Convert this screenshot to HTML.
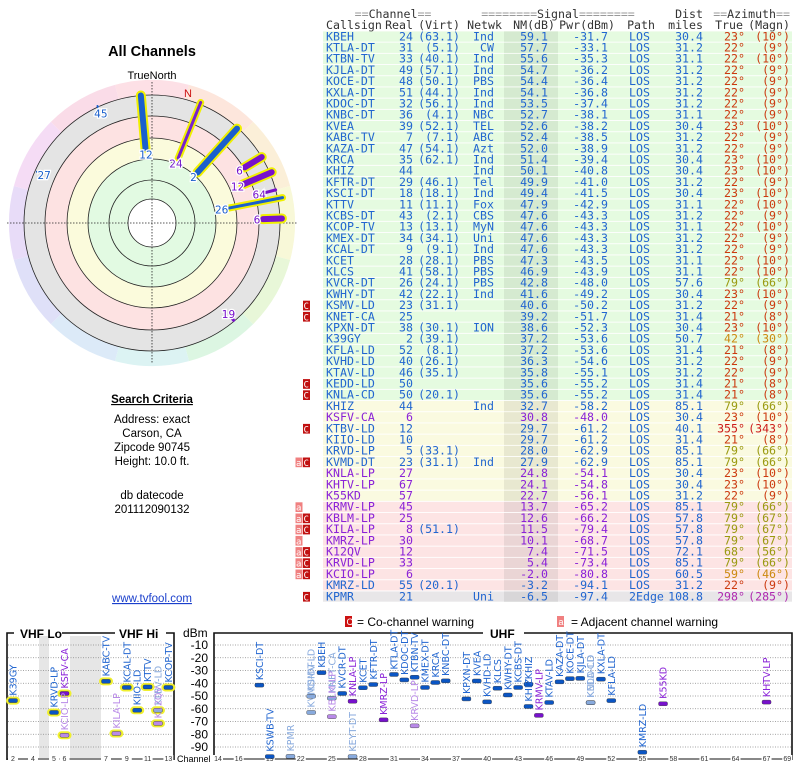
<!DOCTYPE html>
<html><head><meta charset="utf-8"><style>
html,body{margin:0;padding:0;background:#fff;width:800px;height:768px;overflow:hidden}
svg{display:block}
.mono{font-family:"DejaVu Sans Mono","Liberation Mono",monospace;font-size:11.6px}
.sans{font-family:"DejaVu Sans","Liberation Sans",sans-serif}
</style></head><body>
<svg id="root" width="800" height="768" viewBox="0 0 800 768" xmlns="http://www.w3.org/2000/svg">
<g id="polar"></g>
<g id="left" class="sans">
<text x="152" y="56" text-anchor="middle" font-size="14.5" font-weight="bold" font-family="Liberation Sans, sans-serif">All Channels</text>
<text x="152" y="79" text-anchor="middle" font-size="11" font-family="Liberation Sans, sans-serif">TrueNorth</text>
<text x="152" y="403" text-anchor="middle" font-size="11.5" font-weight="bold" text-decoration="underline" font-family="Liberation Sans, sans-serif">Search Criteria</text>
<g font-size="11.5" font-family="Liberation Sans, sans-serif" text-anchor="middle">
<text x="152" y="423">Address: exact</text><text x="152" y="437">Carson, CA</text><text x="152" y="451">Zipcode 90745</text><text x="152" y="465">Height: 10.0 ft.</text>
<text x="152" y="499">db datecode</text><text x="152" y="513">201112090132</text></g>
<text x="152" y="602" text-anchor="middle" font-size="11.5" fill="#1a3fcc" text-decoration="underline" font-family="Liberation Sans, sans-serif">www.tvfool.com</text>
</g>
<g id="table" class="mono"></g>
<g id="legend" font-family="Liberation Sans, sans-serif" font-size="12">
<rect x="345" y="616" width="7" height="11" fill="#cc1111"/><text x="346.5" y="625" font-size="9" fill="#fff">C</text>
<text x="357" y="626">= Co-channel warning</text>
<rect x="557" y="616" width="7" height="11" fill="#f08080"/><text x="558.5" y="625" font-size="9" fill="#fff">a</text>
<text x="571" y="626">= Adjacent channel warning</text>
</g>
<g id="spectrum"></g>
</svg>
<script>
const NS="http://www.w3.org/2000/svg";
function mk(p,tag,attrs,txt){const e=document.createElementNS(NS,tag);for(const k in attrs)e.setAttribute(k,attrs[k]);if(txt!==undefined)e.textContent=txt;p.appendChild(e);return e;}

// ---------- TABLE DATA ----------
const callsigns=["KBEH","KTLA-DT","KTBN-TV","KJLA-DT","KOCE-DT","KXLA-DT","KDOC-DT","KNBC-DT","KVEA","KABC-TV","KAZA-DT","KRCA","KHIZ","KFTR-DT","KSCI-DT","KTTV","KCBS-DT","KCOP-TV","KMEX-DT","KCAL-DT","KCET","KLCS","KVCR-DT","KWHY-DT","KSMV-LD","KNET-CA","KPXN-DT","K39GY","KFLA-LD","KVHD-LD","KTAV-LD","KEDD-LD","KNLA-CD","KHIZ","KSFV-CA","KTBV-LD","KIIO-LD","KRVD-LP","KVMD-DT","KNLA-LP","KHTV-LP","K55KD","KRMV-LP","KBLM-LP","KILA-LP","KMRZ-LP","K12QV","KRVD-LP","KCIO-LP","KMRZ-LD","KPMR"];
const realCh=[24,31,33,49,48,51,32,36,39,7,47,35,44,29,18,11,43,13,34,9,28,41,26,42,23,25,38,2,52,40,46,50,50,44,6,12,10,5,23,27,67,57,45,25,8,30,12,33,6,55,21];
const virtCh=["63.1","5.1","40.1","57.1","50.1","44.1","56.1","4.1","52.1","7.1","54.1","62.1","","46.1","18.1","11.1","2.1","13.1","34.1","9.1","28.1","58.1","24.1","22.1","31.1","","30.1","39.1","8.1","26.1","35.1","","20.1","","","","","33.1","31.1","","","","","","51.1","","","","","20.1",""];
const networks=["Ind","CW","Ind","Ind","PBS","Ind","Ind","NBC","TEL","ABC","Azt","Ind","Ind","Tel","Ind","Fox","CBS","MyN","Uni","Ind","PBS","PBS","PBS","Ind","","","ION","","","","","","","Ind","","","","","Ind","","","","","","","","","","","","Uni"];
const nmDb=[59.1,57.7,55.6,54.7,54.4,54.1,53.5,52.7,52.6,52.4,52.0,51.4,50.1,49.9,49.4,47.9,47.6,47.6,47.6,47.6,47.3,46.9,42.8,41.6,40.6,39.2,38.6,37.2,37.2,36.3,35.8,35.6,35.6,32.7,30.8,29.7,29.7,28.0,27.9,24.8,24.1,22.7,13.7,12.6,11.5,10.1,7.4,5.4,-2.0,-3.2,-6.5];
const pwrDbm=[-31.7,-33.1,-35.3,-36.2,-36.4,-36.8,-37.4,-38.1,-38.2,-38.5,-38.9,-39.4,-40.8,-41.0,-41.5,-42.9,-43.3,-43.3,-43.3,-43.3,-43.5,-43.9,-48.0,-49.2,-50.2,-51.7,-52.3,-53.6,-53.6,-54.6,-55.1,-55.2,-55.2,-58.2,-48.0,-61.2,-61.2,-62.9,-62.9,-54.1,-54.8,-56.1,-65.2,-66.2,-79.4,-68.7,-71.5,-73.4,-80.8,-94.1,-97.4];
const paths=["LOS","LOS","LOS","LOS","LOS","LOS","LOS","LOS","LOS","LOS","LOS","LOS","LOS","LOS","LOS","LOS","LOS","LOS","LOS","LOS","LOS","LOS","LOS","LOS","LOS","LOS","LOS","LOS","LOS","LOS","LOS","LOS","LOS","LOS","LOS","LOS","LOS","LOS","LOS","LOS","LOS","LOS","LOS","LOS","LOS","LOS","LOS","LOS","LOS","LOS","2Edge"];
const distMiles=[30.4,31.2,31.1,31.2,31.2,31.2,31.2,31.1,30.4,31.2,31.2,30.4,30.4,31.2,30.4,31.1,31.2,31.1,31.2,31.2,31.1,31.1,57.6,30.4,31.2,31.4,30.4,50.7,31.4,31.2,31.2,31.4,31.4,85.1,30.4,40.1,31.4,85.1,85.1,30.4,30.4,31.2,85.1,57.8,57.8,57.8,72.1,85.1,60.5,31.2,108.8];
const azTrue=[23,22,22,22,22,22,22,22,23,22,22,23,23,22,23,22,22,22,22,22,22,22,79,23,22,21,23,42,21,22,22,21,21,79,23,355,21,79,79,23,23,22,79,79,79,79,68,79,59,22,298];
const azMagn=[10,9,10,9,9,9,9,9,10,9,9,10,10,9,10,10,9,10,9,9,10,10,66,10,9,8,10,30,8,9,9,8,8,66,10,343,8,66,66,10,10,9,66,67,67,67,56,66,46,9,285];
const warnings=["","","","","","","","","","","","","","","","","","","","","","","","","C","C","","","","","","C","C","","","C","","","aC","","","","a","aC","aC","a","aC","aC","aC","","C"];
const lowPower=[0,0,0,0,0,0,0,0,0,0,0,0,0,0,0,0,0,0,0,0,0,0,0,0,0,0,0,0,0,0,0,0,0,0,1,0,0,0,0,1,1,1,1,1,1,1,1,1,1,0,0];

// ---------- SPECTRUM EXTRA (not in table) ----------
const extraCalls=["KSWB-TV","KEYT-DT"];
const extraCh=[19,27];
const extraPwr=[-97.5,-97.5];
const extraLight=[0,1];

const BLUE="#2266d0",PURPLE="#8a22d8";
function azColor(a){if(a===355)return"#cc1a1a";if(a===298)return"#b02ab0";if(a>=60)return"#9a9a10";if(a>=40)return"#cc8a10";return"#cc3a10";}

const tbl=document.getElementById('table');
const hdr=mk(tbl,'g',{fill:'#333'});


function htxt(x,y,anchor,parts){const t=mk(hdr,'text',{x:x,y:y,'text-anchor':anchor});parts.forEach(p=>{mk(t,'tspan',{fill:p[1]?'#999':'#333'},p[0]);});}
htxt(393,18,'middle',[['==',1],['Channel',0],['==',1]]);
htxt(558,18,'middle',[['========',1],['Signal',0],['========',1]]);
mk(hdr,'text',{x:703,y:18,'text-anchor':'end'},'Dist');
htxt(790,18,'end',[['==',1],['Azimuth',0],['==',1]]);
mk(hdr,'text',{x:326,y:29},'Callsign');
mk(hdr,'text',{x:413,y:29,'text-anchor':'end'},'Real');
mk(hdr,'text',{x:460,y:29,'text-anchor':'end'},'(Virt)');
mk(hdr,'text',{x:502,y:29,'text-anchor':'end'},'Netwk');
mk(hdr,'text',{x:555,y:29,'text-anchor':'end'},'NM(dB)');
mk(hdr,'text',{x:615,y:29,'text-anchor':'end'},'Pwr(dBm)');
mk(hdr,'text',{x:655,y:29,'text-anchor':'end'},'Path');
mk(hdr,'text',{x:703,y:29,'text-anchor':'end'},'miles');
mk(hdr,'text',{x:743,y:29,'text-anchor':'end'},'True');
mk(hdr,'text',{x:790,y:29,'text-anchor':'end'},'(Magn)');

const RH=11.2;
callsigns.forEach((c,i)=>{
  const g=mk(tbl,'g',{});
  
  
  const top=31.4+i*RH;
  let bg=i<33?'#e5fbe0':i<42?'#fafae0':i<50?'#fde4e4':'#e8e6e8';
  let sh=i<33?'#d5ead0':i<42?'#e8e8d0':i<50?'#ead5d5':'#d8d6d8';
  mk(g,'rect',{x:323,y:top,width:469,height:RH-0.9,fill:bg});
  mk(g,'rect',{x:504,y:top,width:54,height:RH-0.9,fill:sh});
  const b=top+8.9, lp=lowPower[i], col=lp?PURPLE:BLUE;
  const w=warnings[i];
  if(w.includes('C')){mk(g,'rect',{x:303,y:top+0.5,width:7,height:RH-1.5,fill:'#c01010'});mk(g,'text',{x:303.5,y:b,fill:'#fff','font-size':'9'},'C');}
  if(w.includes('a')){mk(g,'rect',{x:295.5,y:top+0.5,width:7,height:RH-1.5,fill:'#f08080'});mk(g,'text',{x:296,y:b,fill:'#fff','font-size':'9'},'a');}
  mk(g,'text',{x:326,y:b,fill:col},c);
  mk(g,'text',{x:413,y:b,fill:col,'text-anchor':'end'},realCh[i]);
  if(virtCh[i])mk(g,'text',{x:460,y:b,fill:BLUE,'text-anchor':'end'},'('+virtCh[i]+')');
  if(networks[i])mk(g,'text',{x:494,y:b,fill:BLUE,'text-anchor':'end'},networks[i]);
  mk(g,'text',{x:548,y:b,fill:col,'text-anchor':'end'},nmDb[i].toFixed(1));
  mk(g,'text',{x:608,y:b,fill:col,'text-anchor':'end'},pwrDbm[i].toFixed(1));
  mk(g,'text',{x:629,y:b,fill:BLUE},paths[i]);
  mk(g,'text',{x:703,y:b,fill:BLUE,'text-anchor':'end'},distMiles[i].toFixed(1));
  const ac=azColor(azTrue[i]);
  mk(g,'text',{x:745,y:b,fill:ac,'text-anchor':'end'},azTrue[i]+'°');
  mk(g,'text',{x:790,y:b,fill:ac,'text-anchor':'end'},'('+azMagn[i]+'°)');
});

// ---------- POLAR ----------
const polarAz=[355,42,22,59,67,75,79,88,335,294,140];
const polarR1=[75,68,70,108,99,117,77,111,127,124,125];
const polarR2=[128,127,130,128,130,128,133,130,129,126,127];
const polarW=[6,6,3,6,6,3,3,6,2,2,3];
const polarColors=["#1a5fcc","#1a5fcc","#7722cc","#7711cc","#7711cc","#7711cc","#1a5fcc","#7711cc","#1a5fcc","#1a5fcc","#7711cc"];
const polarLabels=["12","2","24 31 33 49 48 51 32 36","6","12","64","26 44 5 23 45 25 8","6","45","27 21","19 18 40 47"];
const polarHalo=[1,1,1,1,1,0,1,1,0,0,0];
const pg=document.getElementById('polar');
const CX=152,CY=223;
const wedgeCols=["#fde0e6","#fde6dc","#fbefd8","#f8f8d8","#e8f7d8","#dcf6e2","#dcf3f3","#dceaf8","#dfe0f8","#e8dcf8","#f5dcf5","#fadce8"];
for(let k=0;k<12;k++){
  const a1=(k*30-15-90)*Math.PI/180,a2=(k*30+15-90)*Math.PI/180,R=143;
  mk(pg,'path',{d:`M${CX},${CY} L${CX+R*Math.cos(a1)},${CY+R*Math.sin(a1)} A${R},${R} 0 0 1 ${CX+R*Math.cos(a2)},${CY+R*Math.sin(a2)} Z`,fill:wedgeCols[k]});
}
mk(pg,'circle',{cx:CX,cy:CY,r:128,fill:'#e4e4e4'});
mk(pg,'circle',{cx:CX,cy:CY,r:107,fill:'#fde2e2'});
mk(pg,'circle',{cx:CX,cy:CY,r:85,fill:'#fbfbdc'});
mk(pg,'circle',{cx:CX,cy:CY,r:64,fill:'#e2fae2'});
[128,107,85,64,43].forEach(r=>mk(pg,'circle',{cx:CX,cy:CY,r:r,fill:'none',stroke:'#222','stroke-width':0.8}));
mk(pg,'circle',{cx:CX,cy:CY,r:24,fill:'#fff',stroke:'#222','stroke-width':0.8});
mk(pg,'line',{x1:7,y1:CY,x2:297,y2:CY,stroke:'#222','stroke-dasharray':'1.5,1.5','stroke-width':0.8});
mk(pg,'line',{x1:CX,y1:82,x2:CX,y2:364,stroke:'#222','stroke-dasharray':'1.5,1.5','stroke-width':0.8});
mk(pg,'text',{x:184,y:97,fill:'#cc1111','font-size':'11','font-family':'Liberation Sans, sans-serif'},'N');
polarAz.forEach((az,i)=>{
  const a=(az-90)*Math.PI/180,c=Math.cos(a),s=Math.sin(a);
  const x1=CX+polarR1[i]*c,y1=CY+polarR1[i]*s,x2=CX+polarR2[i]*c,y2=CY+polarR2[i]*s;
  const g=mk(pg,'g',{});
  
  
  if(polarHalo[i])mk(g,'line',{x1,y1,x2,y2,stroke:'#f0f000','stroke-width':polarW[i]+4,'stroke-linecap':'round'});
  mk(g,'line',{x1,y1,x2,y2,stroke:polarColors[i],'stroke-width':polarW[i],'stroke-linecap':'round'});
  const lx=CX+(polarR1[i]-6)*c,ly=CY+(polarR1[i]-6)*s+4;
  mk(g,'text',{x:lx,y:ly,'text-anchor':'middle','font-size':'10.5','font-family':'DejaVu Sans, sans-serif',fill:polarColors[i],stroke:'#fff','stroke-width':2.5,'paint-order':'stroke'},polarLabels[i].split(' ')[0]);
});

// ---------- SPECTRUM ----------
const sp=document.getElementById('spectrum');
const dbTicks=[-10,-20,-30,-40,-50,-60,-70,-80,-90];
const vhfTicks=[2,4,5,6,7,9,11,13];
const uhfTicks=[14,16,19,22,25,28,31,34,37,40,43,46,49,52,55,58,61,64,67,69];
function yDb(d){return 645+(-10-d)*1.275;}
function xCh(ch){if(ch<=4)return 13+(ch-2)*10;if(ch<=6)return 54+(ch-5)*10.5;if(ch<=13)return 106+(ch-7)*10.4;return 218+(ch-14)*10.35;}
mk(sp,'rect',{x:39,y:636,width:10,height:122,fill:'#e6e6e6'});
mk(sp,'rect',{x:70,y:636,width:31,height:122,fill:'#e6e6e6'});
dbTicks.forEach(d=>{
  const y=yDb(d);
  mk(sp,'line',{x1:8,y1:y,x2:173,y2:y,stroke:'#888','stroke-dasharray':'1,1.5','stroke-width':0.8});
  mk(sp,'line',{x1:215,y1:y,x2:791,y2:y,stroke:'#888','stroke-dasharray':'1,1.5','stroke-width':0.8});
  mk(sp,'text',{x:208,y:y+4,'text-anchor':'end','font-size':'12','font-family':'Liberation Sans, sans-serif'},d);
});
mk(sp,'text',{x:183,y:637,'font-size':'12','font-family':'Liberation Sans, sans-serif'},'dBm');
mk(sp,'text',{x:177,y:762,'font-size':'9','font-family':'Liberation Sans, sans-serif'},'Channel');
mk(sp,'path',{d:'M7,760 L7,633 L14,633 M62,633 L115,633 M166,633 L174,633 L174,760',fill:'none',stroke:'#111','stroke-width':1.6});
mk(sp,'path',{d:'M214,760 L214,633 L483,633 M524,633 L792,633 L792,760',fill:'none',stroke:'#111','stroke-width':1.6});
mk(sp,'text',{x:20,y:638,'font-size':'12','font-weight':'bold','font-family':'Liberation Sans, sans-serif'},'VHF Lo');
mk(sp,'text',{x:119,y:638,'font-size':'12','font-weight':'bold','font-family':'Liberation Sans, sans-serif'},'VHF Hi');
mk(sp,'text',{x:490,y:638,'font-size':'12','font-weight':'bold','font-family':'Liberation Sans, sans-serif'},'UHF');
mk(sp,'line',{x1:7,y1:759,x2:174,y2:759,stroke:'#111','stroke-width':1});
mk(sp,'line',{x1:214,y1:759,x2:792,y2:759,stroke:'#111','stroke-width':1});
vhfTicks.concat(uhfTicks).forEach(ch=>{
  const x=xCh(ch);
  mk(sp,'rect',{x:x-5,y:755,width:10,height:7,fill:'#fff'});
  mk(sp,'text',{x:x,y:761,'text-anchor':'middle','font-size':'7','font-family':'Liberation Sans, sans-serif',fill:'#333'},ch);
});
function bar(call,ch,pwr,light,lp){
  const x=xCh(ch),y=yDb(pwr);
  const g=mk(sp,'g',{});
  
  
  let col=lp?(light?'#b98ae8':'#7711cc'):(light?'#88aadd':'#0a55c4');
  let tcol=lp?(light?'#b98ae8':'#8a22d8'):(light?'#88aadd':'#2266d0');
  if(ch<=13)mk(g,'rect',{x:x-7,y:y-4,width:14,height:8,rx:4,fill:'#f0f030'});
  mk(g,'rect',{x:x-4.5,y:y-2,width:9,height:4,rx:1.5,fill:col,stroke:'#333','stroke-width':0.4});
  mk(g,'text',{x:0,y:0,transform:`translate(${x+3.5},${y-5}) rotate(-90)`,'font-size':'9.5','font-family':'DejaVu Sans, sans-serif',fill:tcol},call);
}
callsigns.forEach((c,i)=>bar(c,realCh[i],pwrDbm[i],warnings[i].includes('C')?1:0,lowPower[i]));
extraCalls.forEach((c,i)=>bar(c,extraCh[i],extraPwr[i],extraLight[i],0));
</script>
</body></html>
